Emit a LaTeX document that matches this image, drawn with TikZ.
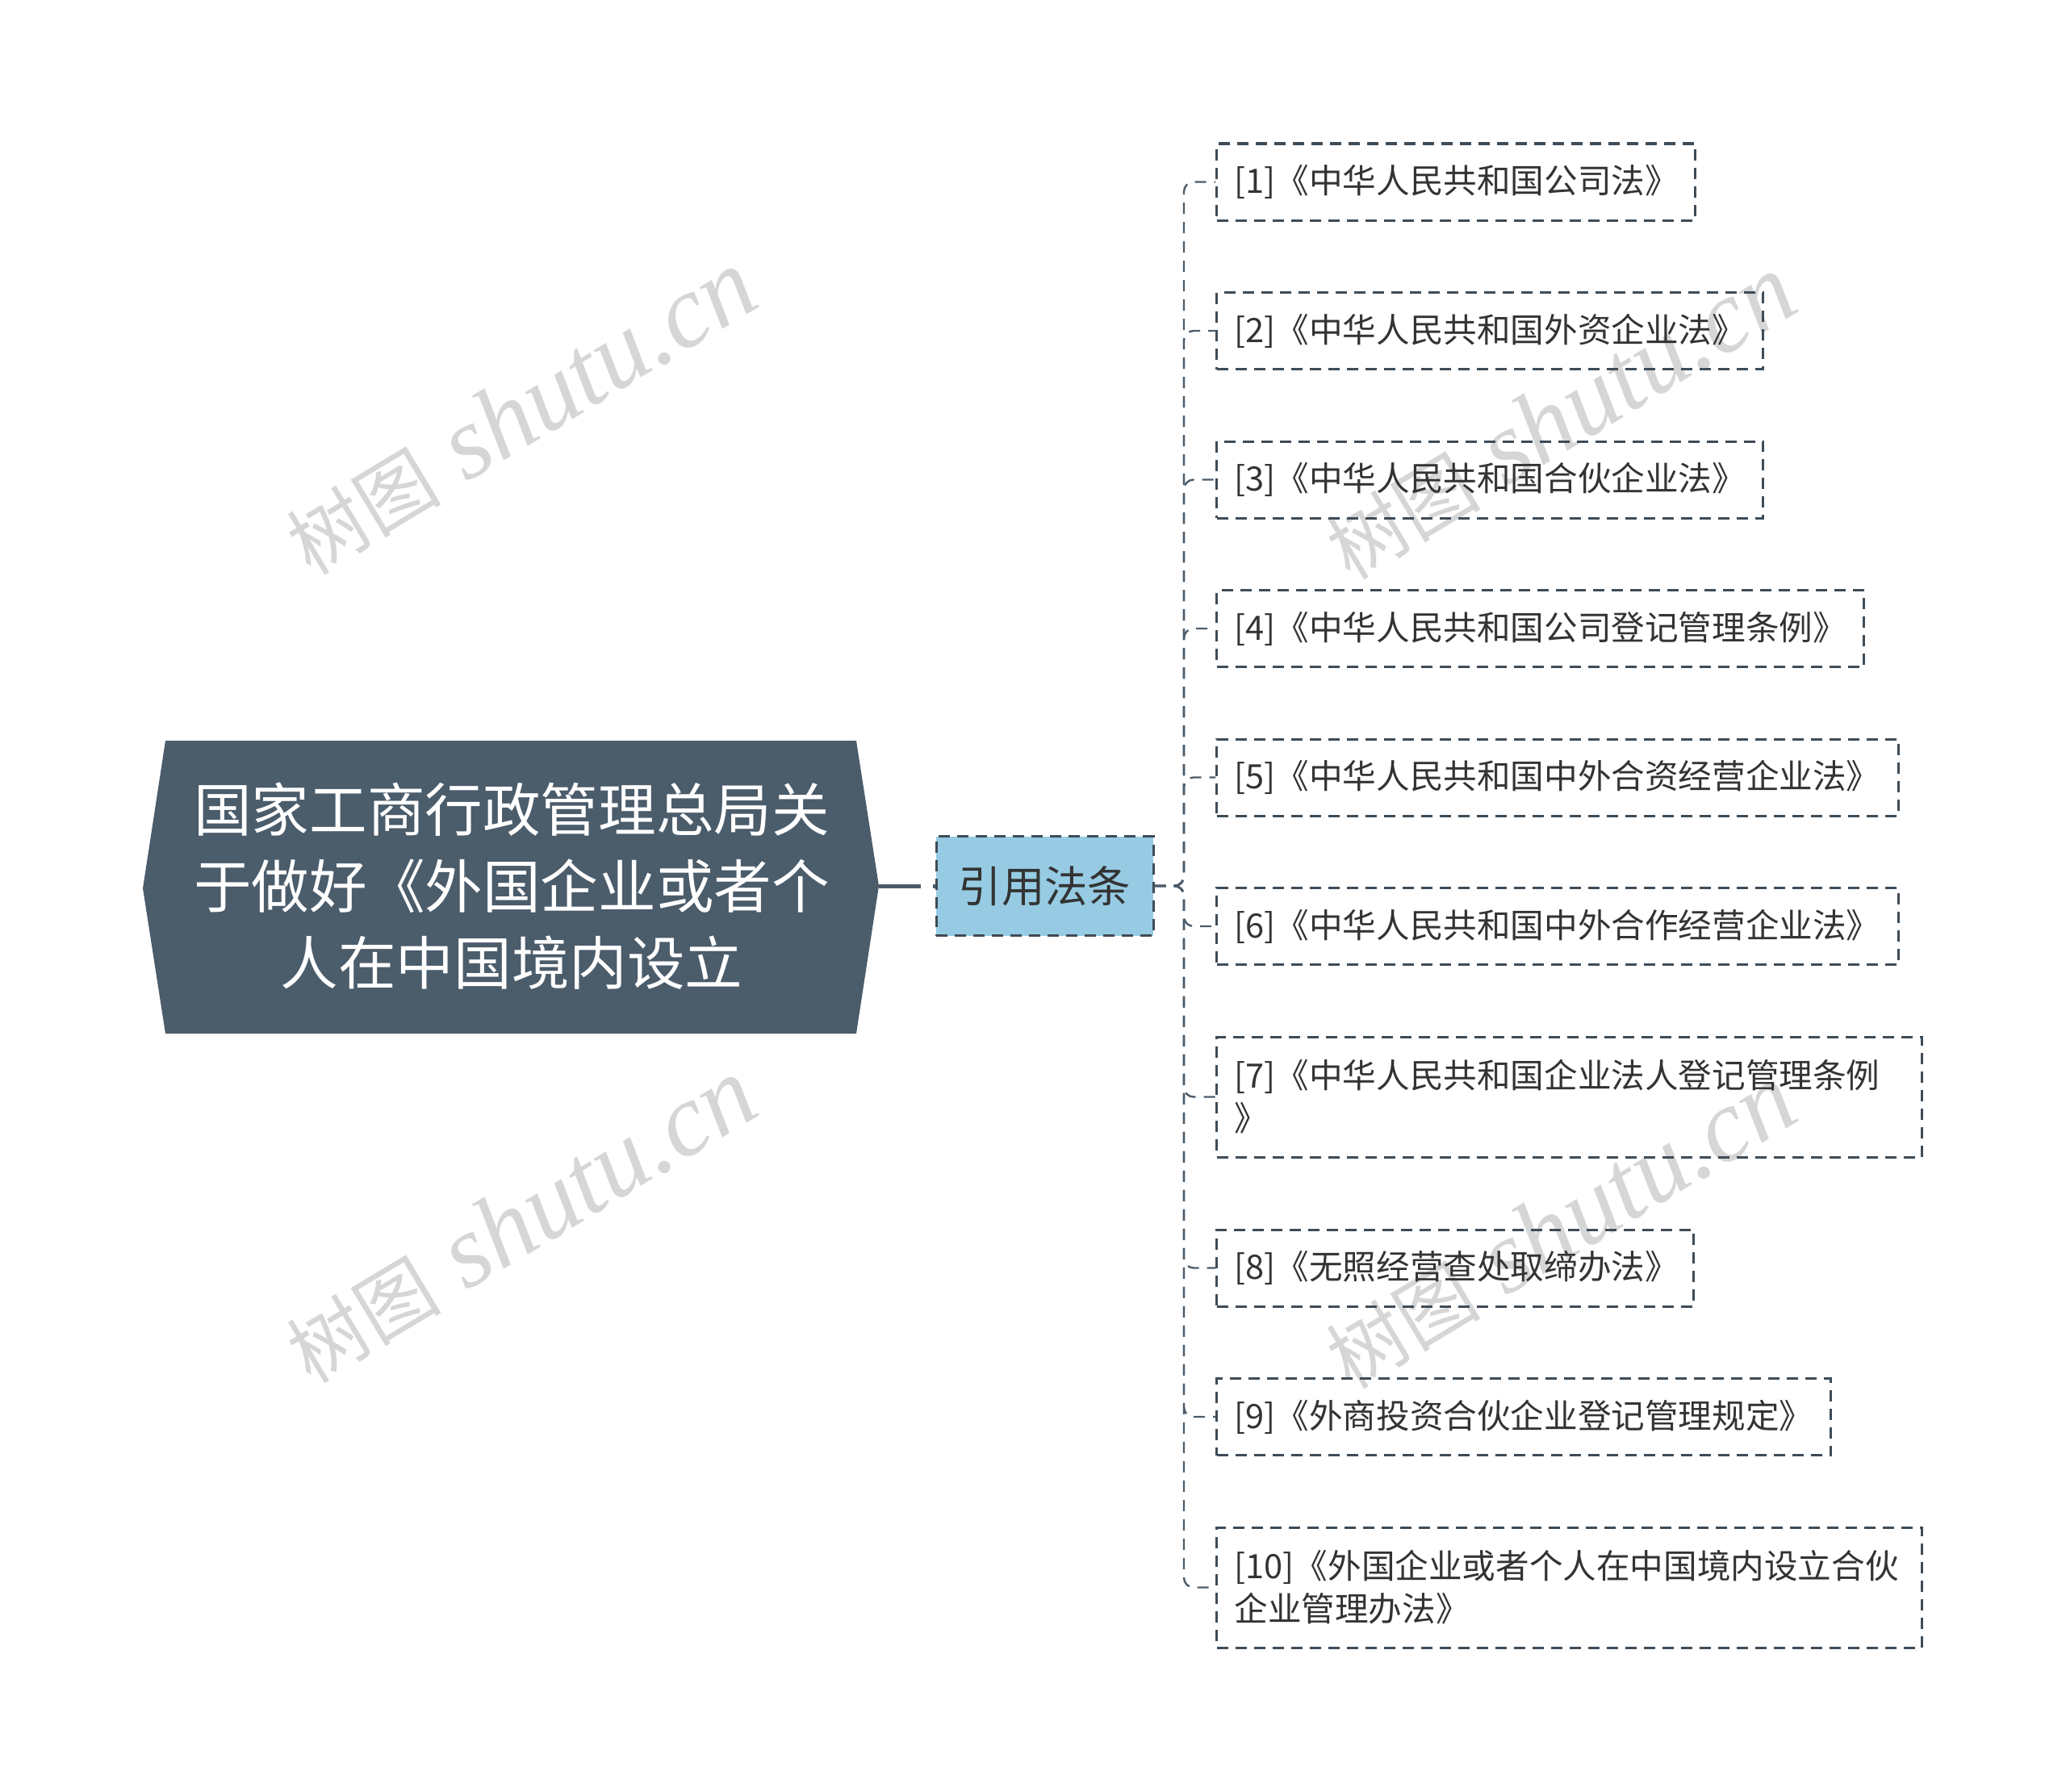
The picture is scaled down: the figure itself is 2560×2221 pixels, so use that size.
\documentclass[tikz,border=0pt]{standalone}
\usepackage{fontspec}
\newfontfamily\cjk{Noto Sans CJK SC}
\newfontfamily\wmserif{Liberation Serif}
\definecolor{rootfill}{HTML}{4B5C6B}
\definecolor{midfill}{HTML}{96CBE3}
\definecolor{leafline}{HTML}{3E4C58}
\definecolor{connc}{HTML}{4B5C6B}
\definecolor{txt}{HTML}{333333}
\definecolor{wmc}{HTML}{D6D6D6}
\tikzset{
  leafbox/.style={draw=leafline, line width=1.5pt, dash pattern=on 7pt off 4.5pt,
    anchor=west, minimum height=47.5pt, inner xsep=11pt, inner ysep=0pt,
    align=left, font=\cjk\fontsize{20.8}{26.5}\selectfont, text=txt},
  midbox/.style={draw=leafline, line width=1.5pt, dash pattern=on 7pt off 4.5pt,
    fill=midfill, minimum width=134.5pt, minimum height=61.5pt, inner sep=0pt,
    font=\cjk\fontsize{26.7}{32}\selectfont, text=txt},
  roottext/.style={align=center, text=white, inner sep=0pt,
    font=\cjk\fontsize{35.8}{47.5}\selectfont},
  conn/.style={draw=connc, line width=1.2pt, dash pattern=on 7pt off 5pt, rounded corners=6pt},
  rootconn/.style={draw=connc, line width=2.5pt, dash pattern=on 26pt off 7.5pt},
  wmark/.style={text=wmc, inner sep=0pt, rotate=31}
}
\newcommand{\wmtext}{{\cjk\fontsize{48}{52}\selectfont 树图}{\wmserif\itshape\fontsize{64}{68}\selectfont\ shutu.cn}}
\begin{document}
\begin{tikzpicture}[x=0.5pt,y=-0.5pt]
\useasboundingbox (0,0) rectangle (2560,2221);
% watermarks
\node[wmark] (wm1) at (645,511) {\wmtext};
\node[wmark] (wm2) at (645,1513) {\wmtext};
\node[wmark] (wm3) at (1933,517) {\wmtext};
\node[wmark] (wm4) at (1933,1520) {\wmtext};
% root
\coordinate (rW) at (177,1101);
\coordinate (rNW) at (205,918);
\coordinate (rNE) at (1061,918);
\coordinate (rE) at (1089,1098);
\coordinate (rSE) at (1061,1281);
\coordinate (rSW) at (205,1281);
\fill[rootfill] (rW) -- (rNW) -- (rNE) -- (rE) -- (rSE) -- (rSW) -- cycle;
\node[roottext] (root) at (634,1098) {国家工商行政管理总局关\\于做好《外国企业或者个\\人在中国境内设立};
% middle
\node[midbox] (mid) at (1294.5,1098) {引用法条};
\draw[rootconn] (rE) -- (mid.west);
% leaves
\node[leafbox, text width=274.5pt] (l1) at (1506,225.5) {[1]《中华人民共和国公司法》};
\node[leafbox, text width=316.5pt] (l2) at (1506,410) {[2]《中华人民共和国外资企业法》};
\node[leafbox, text width=316.5pt] (l3) at (1506,594.5) {[3]《中华人民共和国合伙企业法》};
\node[leafbox, text width=379pt] (l4) at (1506,779) {[4]《中华人民共和国公司登记管理条例》};
\node[leafbox, text width=400.5pt] (l5) at (1506,963.5) {[5]《中华人民共和国中外合资经营企业法》};
\node[leafbox, text width=400.5pt] (l6) at (1506,1148) {[6]《中华人民共和国中外合作经营企业法》};
\node[leafbox, text width=415pt, minimum height=74.5pt] (l7) at (1506,1359.5) {[7]《中华人民共和国企业法人登记管理条例\\》};
\node[leafbox, text width=273.5pt] (l8) at (1506,1571.5) {[8]《无照经营查处取缔办法》};
\node[leafbox, text width=358.5pt] (l9) at (1506,1756) {[9]《外商投资合伙企业登记管理规定》};
\node[leafbox, text width=415pt, minimum height=74.5pt] (l10) at (1506,1967.5) {[10]《外国企业或者个人在中国境内设立合伙\\企业管理办法》};
% connectors
\coordinate (tj) at (1467,1098);
\foreach \n in {l1,l2,l3,l4,l5,l6,l7,l8,l9,l10}{
  \draw[conn] (mid.east) -- (tj) |- (\n.west);
}
\end{tikzpicture}
\end{document}
